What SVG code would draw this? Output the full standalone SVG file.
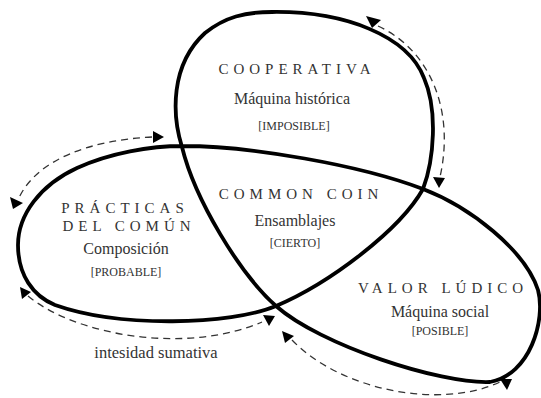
<svg xmlns="http://www.w3.org/2000/svg" width="541" height="398" viewBox="0 0 541 398">
  <style>
    .loop { fill: none; stroke: #000; stroke-width: 3.8; stroke-linejoin: round; }
    .flow { fill: none; stroke: #333; stroke-width: 1.3; stroke-dasharray: 7 5; }
    .head { fill: #000; }
    text { font-family: "Liberation Serif", "Times New Roman", serif; fill: #333; text-anchor: middle; }
    .title { font-size: 15px; letter-spacing: 5px; }
    .sub { font-size: 16px; }
    .tag { font-size: 12px; }
    .note { font-size: 16.5px; }
  </style>

  <!-- trefoil: one closed stroke forming three lobes -->
  <g id="trefoil">
    <path class="loop" d="M 272,12
      C 345,11 408,36 424,78
      C 438,110 434,160 423,189
      C 400,230 330,283 276,306
      C 230,325 120,328 55,305
      C 33,296 18,275 18,245
      C 18,215 40,185 77,168
      C 110,153 150,146 183,146
      C 250,146 360,165 423,189
      C 470,207 525,250 538,290
      C 546,320 530,375 490,382
      C 440,384 320,345 276,306
      C 240,274 195,200 182,147
      C 172,115 170,65 205,33
      C 225,17 245,12 272,12 Z"/>
  </g>

  <!-- dashed flows with their arrowheads -->
  <g id="connectors">
    <path class="flow" d="M 378,26 C 430,50 455,110 440,177"/>
    <path class="flow" d="M 152,137 C 90,140 35,160 18,200"/>
    <path class="flow" d="M 28,296 C 75,335 185,355 262,322"/>
    <path class="flow" d="M 292,340 C 340,390 440,410 500,382"/>
    <polygon class="head" points="366,16 381,20 372,28"/>
    <polygon class="head" points="433,177 445,178 439,188"/>
    <polygon class="head" points="153,131 153,143 164,137"/>
    <polygon class="head" points="13,209 10,197 23,203"/>
    <polygon class="head" points="20,287 22,299 31,292"/>
    <polygon class="head" points="263,315 275,316 269,326"/>
    <polygon class="head" points="282,331 285,343 294,336"/>
    <polygon class="head" points="500,379 512,379 507,390"/>
  </g>

  <g id="cooperativa">
    <text class="title" x="297" y="74">COOPERATIVA</text>
    <text class="sub" x="292" y="104">Máquina histórica</text>
    <text class="tag" x="294" y="130">[IMPOSIBLE]</text>
  </g>

  <g id="practicas">
    <text class="title" x="125" y="213">PRÁCTICAS</text>
    <text class="title" x="129" y="231">DEL COMÚN</text>
    <text class="sub" x="126" y="254">Composición</text>
    <text class="tag" x="126" y="276">[PROBABLE]</text>
  </g>

  <g id="common-coin">
    <text class="title" x="301" y="199">COMMON COIN</text>
    <text class="sub" x="295" y="226">Ensamblajes</text>
    <text class="tag" x="295" y="247">[CIERTO]</text>
  </g>

  <g id="valor-ludico">
    <text class="title" x="443" y="293">VALOR LÚDICO</text>
    <text class="sub" x="440" y="317">Máquina social</text>
    <text class="tag" x="440" y="335">[POSIBLE]</text>
  </g>

  <g id="intensidad">
    <text class="note" x="156" y="358">intesidad sumativa</text>
  </g>
</svg>
